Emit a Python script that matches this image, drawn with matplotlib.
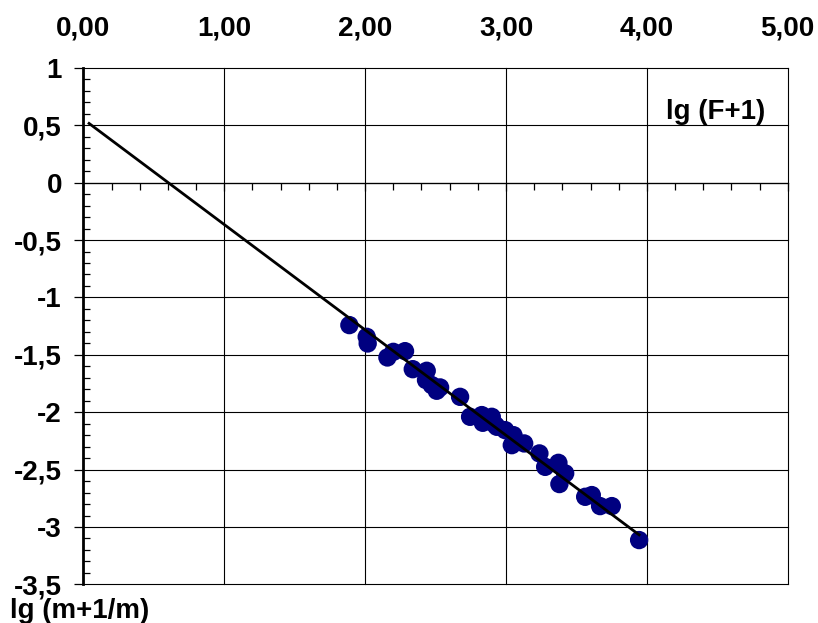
import matplotlib
matplotlib.use("Agg")
import matplotlib.pyplot as plt
from matplotlib.ticker import FixedLocator, FixedFormatter, MultipleLocator
import numpy as np

plt.rcParams["font.family"] = ["Liberation Sans", "DejaVu Sans"]
plt.rcParams["font.weight"] = "bold"

# observed points: lg(F+1) vs lg(m+1/m)
lg_f = [1.888, 2.011, 2.018, 2.158, 2.200, 2.283, 2.338, 2.437, 2.432, 2.473,
        2.508, 2.532, 2.674, 2.745, 2.828, 2.835, 2.899, 2.923, 2.935, 2.994,
        3.053, 3.041, 3.129, 3.237, 3.278, 3.372, 3.420, 3.379, 3.562, 3.609,
        3.668, 3.751, 3.945]
lg_m = [-1.241, -1.343, -1.401, -1.523, -1.474, -1.468, -1.625, -1.639, -1.720, -1.764,
        -1.813, -1.784, -1.866, -2.040, -2.025, -2.092, -2.040, -2.110, -2.127, -2.156,
        -2.200, -2.287, -2.272, -2.359, -2.476, -2.441, -2.533, -2.626, -2.737, -2.722,
        -2.818, -2.818, -3.114]

# regression line
fit_x = [0.04, 3.945]
fit_intercept = 0.553
fit_slope = -0.918

x_ticks = [0, 1, 2, 3, 4, 5]
x_labels = ["0,00", "1,00", "2,00", "3,00", "4,00", "5,00"]
y_ticks = [1, 0.5, 0, -0.5, -1, -1.5, -2, -2.5, -3, -3.5]
y_labels = ["1", "0,5", "0", "-0,5", "-1", "-1,5", "-2", "-2,5", "-3", "-3,5"]

fig = plt.figure(figsize=(8.18, 6.23), dpi=100)
ax = fig.add_axes([0.102, 0.062, 0.861, 0.829])

ax.set_xlim(0, 5)
ax.set_ylim(-3.5, 1)

# grid
for yv in y_ticks:
    ax.axhline(yv, color="black", linewidth=0.8, zorder=1, clip_on=False)
for xv in x_ticks[1:]:
    ax.axvline(xv, color="black", linewidth=0.8, zorder=1, clip_on=False)

fx = np.array(fit_x)
ax.plot(fx, fit_intercept + fit_slope * fx, color="black", linewidth=2.0, zorder=3)
ax.scatter(lg_f, lg_m, s=175, color="#000080", edgecolors="none", zorder=2)

for side in ["top", "right"]:
    ax.spines[side].set_visible(False)
ax.spines["bottom"].set_position(("data", 0))
ax.spines["bottom"].set_linewidth(0.9)
ax.spines["left"].set_linewidth(2.0)

ax.xaxis.set_major_locator(FixedLocator(x_ticks))
ax.xaxis.set_major_formatter(FixedFormatter(x_labels))
ax.xaxis.set_minor_locator(MultipleLocator(0.2))
ax.yaxis.set_major_locator(FixedLocator(y_ticks))
ax.yaxis.set_major_formatter(FixedFormatter(y_labels))
ax.yaxis.set_minor_locator(MultipleLocator(0.1))

ax.tick_params(axis="x", which="both", bottom=True, top=False,
               labelbottom=False, labeltop=True, direction="out")
ax.tick_params(axis="x", which="major", length=6, width=0.9, pad=13, labelsize=20)
ax.tick_params(axis="x", which="minor", length=5, width=0.9)
ax.tick_params(axis="y", which="major", direction="out", length=6.5, width=0.9,
               pad=9, labelsize=20)
ax.tick_params(axis="y", which="minor", direction="in", length=5, width=0.9)
for lab in ax.get_xticklabels() + ax.get_yticklabels():
    lab.set_fontweight("bold")

ax.text(4.49, 0.62, "lg (F+1)", ha="center", va="center", fontsize=20,
        fontweight="bold", zorder=4)
fig.text(0.012, 0.019, "lg (m+1/m)", ha="left", va="center", fontsize=20,
         fontweight="bold")

fig.savefig("out.png", dpi=100, facecolor="white")
